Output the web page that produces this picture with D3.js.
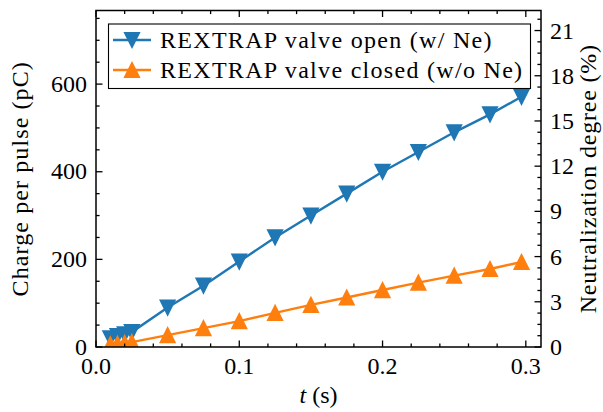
<!DOCTYPE html>
<html>
<head>
<meta charset="utf-8">
<script src="https://cdn.jsdelivr.net/npm/d3@7"></script>
<style>
  body { margin: 0; background: #fff; }
  svg { display: block; }
</style>
</head>
<body>
<svg id="chart" width="603" height="412" font-family="'Liberation Serif', 'DejaVu Serif', serif"></svg>
<script>
// Pulse charge versus accumulation time, with and without neon in REXTRAP
const timeOpen     = [0.010, 0.015, 0.020, 0.025, 0.050, 0.075, 0.100, 0.125, 0.150, 0.175, 0.200, 0.225, 0.250, 0.275, 0.297];
const chargeOpen   = [20, 25, 29, 34, 90, 140, 195, 250, 300, 350, 400, 445, 490, 531, 571];
const timeClosed   = [0.010, 0.015, 0.020, 0.025, 0.050, 0.075, 0.100, 0.125, 0.150, 0.175, 0.200, 0.225, 0.250, 0.275, 0.297];
const chargeClosed = [6, 7, 9, 11, 27, 43, 59, 78, 96, 113, 130, 147, 163, 178, 194];

const seriesNames  = ["REXTRAP valve open (w/ Ne)", "REXTRAP valve closed (w/o Ne)"];
const seriesColors = ["#1f77b4", "#ff7f0e"];

const xTickValues     = [0.0, 0.1, 0.2, 0.3];
const yTickValues     = [0, 200, 400, 600];
const rightTickValues = [0, 3, 6, 9, 12, 15, 18, 21];

const FONT = "'Liberation Serif', 'DejaVu Serif', serif";
const svg = d3.select("#chart");
const m = { left: 96, right: 541, top: 10.5, bottom: 347 };
const FS = 24;

const x  = d3.scaleLinear().domain([0, 0.3106]).range([m.left, m.right]);
const y  = d3.scaleLinear().domain([0, 768]).range([m.bottom, m.top]);
const y2 = d3.scaleLinear().domain([0, 22.33]).range([m.bottom, m.top]);

svg.append("defs").append("clipPath").attr("id", "plotClip")
  .append("rect").attr("x", m.left).attr("y", m.top)
  .attr("width", m.right - m.left).attr("height", m.bottom - m.top);

// triangle marker, width == height (down or up)
function tri(size, down) {
  const h = size / 2;
  return down ? `M${-h},${-h}L${h},${-h}L0,${h}Z` : `M${-h},${h}L${h},${h}L0,${-h}Z`;
}
const MS = 14.6;

// series
const series = [
  { t: timeOpen,   q: chargeOpen,   down: true,  color: seriesColors[0] },
  { t: timeClosed, q: chargeClosed, down: false, color: seriesColors[1] }
];
const plot = svg.append("g").attr("clip-path", "url(#plotClip)");
series.forEach(s => {
  const pts = s.t.map((t, i) => [t, s.q[i]]);
  plot.append("path")
    .attr("d", d3.line().x(d => x(d[0])).y(d => y(d[1]))(pts))
    .attr("fill", "none").attr("stroke", s.color).attr("stroke-width", 2.4);
  plot.selectAll(null).data(pts).enter().append("path")
    .attr("d", tri(MS, s.down))
    .attr("transform", d => `translate(${x(d[0])},${y(d[1])})`)
    .attr("fill", s.color).attr("stroke", s.color).attr("stroke-width", 1.6);
});

// axes: ticks pointing inward on all sides
const MAJ = 6.5, MIN = 3.6;
const ax = svg.append("g");
function hTicks(vals, len, yPos, dir) {
  vals.forEach(v => ax.append("line")
    .attr("x1", x(v)).attr("x2", x(v)).attr("y1", yPos).attr("y2", yPos + dir * len)
    .attr("stroke", "#000").attr("stroke-width", 1.3));
}
function vTicks(scale, vals, len, xPos, dir) {
  vals.forEach(v => ax.append("line")
    .attr("y1", scale(v)).attr("y2", scale(v)).attr("x1", xPos).attr("x2", xPos + dir * len)
    .attr("stroke", "#000").attr("stroke-width", 1.3));
}
const xMinor = d3.range(0, 0.31, 0.02).filter(v => Math.abs(v * 10 - Math.round(v * 10)) > 1e-6);
const yMinor = d3.range(0, 768, 50).filter(v => v % 200 !== 0);
const rMinor = d3.range(0, 22.33, 0.75).filter(v => Math.abs(v / 3 - Math.round(v / 3)) > 1e-6);

hTicks(xTickValues, MAJ, m.bottom, -1);
hTicks(xMinor, MIN, m.bottom, -1);
hTicks(xTickValues, MAJ, m.top, 1);
hTicks(xMinor, MIN, m.top, 1);
vTicks(y, yTickValues, MAJ, m.left, 1);
vTicks(y, yMinor, MIN, m.left, 1);
vTicks(y2, rightTickValues, MAJ, m.right, -1);
vTicks(y2, rMinor, MIN, m.right, -1);

ax.append("rect").attr("x", m.left).attr("y", m.top)
  .attr("width", m.right - m.left).attr("height", m.bottom - m.top)
  .attr("fill", "none").attr("stroke", "#000").attr("stroke-width", 1.5);

function label(sel) {
  return sel.attr("font-family", FONT).attr("font-size", FS).attr("fill", "#000");
}

// tick labels
label(ax.selectAll(null).data(xTickValues).enter().append("text"))
  .attr("x", d => x(d)).attr("y", 374).attr("text-anchor", "middle")
  .text(d => d.toFixed(1));
label(ax.selectAll(null).data(yTickValues).enter().append("text"))
  .attr("x", 87).attr("y", d => y(d) + 7.5).attr("text-anchor", "end")
  .text(d => d);
label(ax.selectAll(null).data(rightTickValues).enter().append("text"))
  .attr("x", 550).attr("y", d => y2(d) + 8).attr("text-anchor", "start")
  .text(d => d);

// axis titles
const xl = label(svg.append("text")).attr("x", (m.left + m.right) / 2).attr("y", 403)
  .attr("text-anchor", "middle");
xl.append("tspan").attr("font-style", "italic").text("t");
xl.append("tspan").text(" (s)");

label(svg.append("text")).attr("transform", `translate(28,${(m.top + m.bottom) / 2}) rotate(-90)`)
  .attr("text-anchor", "middle").attr("letter-spacing", 1.1).text("Charge per pulse (pC)");
label(svg.append("text")).attr("transform", `translate(596,${(m.top + m.bottom) / 2}) rotate(-90)`)
  .attr("text-anchor", "middle").attr("letter-spacing", 0.8).text("Neutralization degree (%)");

// legend
const lg = svg.append("g");
lg.append("rect").attr("x", 108.5).attr("y", 24).attr("width", 422).attr("height", 64.5)
  .attr("fill", "#fff").attr("stroke", "#000").attr("stroke-width", 1.1);
series.forEach((s, i) => {
  const cy = 40 + i * 30;
  lg.append("line").attr("x1", 113).attr("x2", 151).attr("y1", cy).attr("y2", cy)
    .attr("stroke", s.color).attr("stroke-width", 2.4);
  lg.append("path").attr("d", tri(MS, s.down)).attr("transform", `translate(132,${cy})`)
    .attr("fill", s.color).attr("stroke", s.color).attr("stroke-width", 1.6);
  label(lg.append("text")).attr("x", 160).attr("y", cy + 8)
    .attr("letter-spacing", 1.3).text(seriesNames[i]);
});
</script>
</body>
</html>
